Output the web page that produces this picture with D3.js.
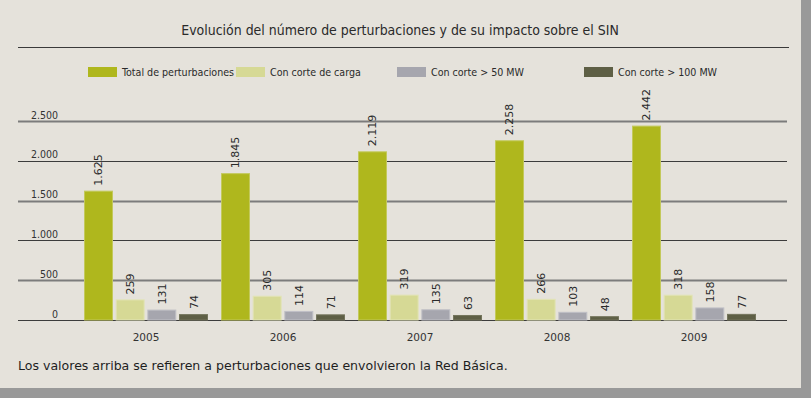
<!DOCTYPE html>
<html><head><meta charset="utf-8">
<script src="https://cdn.jsdelivr.net/npm/d3@7/dist/d3.min.js"></script>
<style>
html,body{margin:0;padding:0;background:#999999;}
svg{display:block;}
</style></head>
<body><svg id="c" width="811" height="398"></svg>
<script>
const years = ["2005","2006","2007","2008","2009"];
const seriesNames = ["Total de perturbaciones","Con corte de carga","Con corte > 50 MW","Con corte > 100 MW"];
const totalPert = [1625,1845,2119,2258,2442];
const corteCarga = [259,305,319,266,318];
const corte50 = [131,114,135,103,158];
const corte100 = [74,71,63,48,77];
const yTicks = [0,500,1000,1500,2000,2500];
const colors = ["#afb71d","#d6d995","#a6a6ae","#5e5f45"];
const strokes = ["#c3c95c","#e2e4b6","#c0c0c6","#74755c"];

const series = [totalPert, corteCarga, corte50, corte100];
const fmt = v => d3.format(",")(v).replace(/,/g,".");

const svg = d3.select("#c");
svg.append("rect").attr("x",0).attr("y",0).attr("width",801).attr("height",388).attr("fill","#e5e2db");

const COND = "'DejaVu Sans Condensed','DejaVu Sans',sans-serif";
const REG = "'DejaVu Sans',sans-serif";

function fitText(sel, target){
  const w = sel.node().getComputedTextLength();
  const fs = parseFloat(sel.attr("font-size"));
  sel.attr("font-size", fs*target/w);
}

const title = svg.append("text").attr("x",400).attr("y",35).attr("text-anchor","middle")
  .attr("font-family",COND).attr("font-size",13.5).attr("fill","#2a2a2a")
  .text("Evolución del número de perturbaciones y de su impacto sobre el SIN");
fitText(title, 438);
svg.append("line").attr("x1",18).attr("x2",789).attr("y1",47.5).attr("y2",47.5)
  .attr("stroke","#3a3a3a").attr("stroke-width",1.2);

// legend
const legX = [88,236,397,584];
seriesNames.forEach((n,i)=>{
  svg.append("rect").attr("x",legX[i]).attr("y",67).attr("width",29).attr("height",10).attr("fill",colors[i]);
  svg.append("text").attr("x",legX[i]+34).attr("y",76).attr("font-family",COND).attr("font-size",10.6)
    .attr("fill","#2a2a2a").text(n);
});

const y = d3.scaleLinear().domain([0,2500]).range([320,121]);
const x0 = d3.scaleBand().domain(years).range([77.5,762.5]).paddingInner(0.095).paddingOuter(0.0475);
const x1 = d3.scaleBand().domain(d3.range(4)).range([0,x0.bandwidth()]).paddingInner(0.085);

// gridlines
const g = svg.append("g");
yTicks.forEach(t=>{
  const dark = (t/500)%2===0;
  g.append("line").attr("x1",18).attr("x2",787).attr("y1",Math.round(y(t))+0.5).attr("y2",Math.round(y(t))+0.5)
    .attr("stroke", dark?"#3c3c3c":"#7c7c7c").attr("stroke-width", dark?1.2:1.8);
  g.append("text").attr("x",58).attr("y",y(t)-2.5).attr("text-anchor","end")
    .attr("font-family",COND).attr("font-size",10.5).attr("fill","#333").text(fmt(t));
});

// bars
years.forEach((yr,gi)=>{
  series.forEach((s,si)=>{
    const bx = x0(yr)+x1(si), bw = x1.bandwidth(), v = s[gi];
    svg.append("rect").attr("x",bx+0.5).attr("y",y(v)+0.5).attr("width",bw-1).attr("height",y(0)-y(v)-0.5)
      .attr("fill",colors[si]).attr("stroke",strokes[si]).attr("stroke-width",1);
    svg.append("text").attr("transform",`translate(${bx+bw/2+4},${y(v)-5}) rotate(-90)`)
      .attr("font-family",REG).attr("font-size",11).attr("fill","#2a2a2a")
      .text(fmt(v));
  });
});

// x axis labels
const xa = svg.append("g").attr("transform","translate(0,320)")
  .call(d3.axisBottom(x0).tickSize(0).tickPadding(14));
xa.select(".domain").remove();
xa.selectAll("text").attr("font-family",REG).attr("font-size",10.5).attr("fill","#333");

const foot = svg.append("text").attr("x",18).attr("y",370).attr("font-family",REG).attr("font-size",12.5).attr("fill","#1e1e1e")
  .text("Los valores arriba se refieren a perturbaciones que envolvieron la Red Básica.");
fitText(foot, 490);
</script></body></html>
